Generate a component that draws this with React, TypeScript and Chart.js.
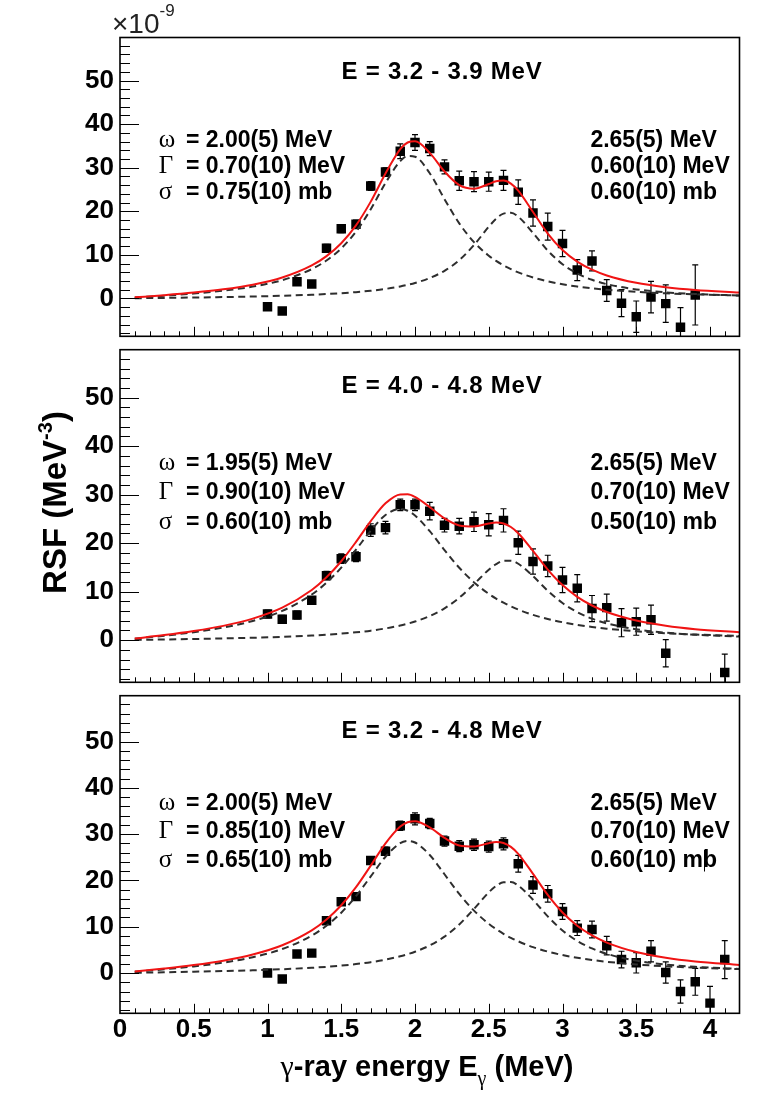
import React, { useEffect, useRef } from "react";
import { Chart, registerables } from "chart.js";

Chart.register(...registerables);
Chart.defaults.font.family = "Liberation Sans";

// ---------------- data ----------------
// energies at which the fitted curves are tabulated (MeV)
const curveE = [0.1, 0.3, 0.5, 0.7, 0.9, 1.1, 1.3, 1.4, 1.5, 1.6, 1.7, 1.8, 1.9, 1.95, 2.0, 2.1, 2.2, 2.3, 2.4, 2.5, 2.55, 2.6, 2.65, 2.7, 2.8, 2.9, 3.0, 3.1, 3.2, 3.3, 3.5, 3.7, 3.9, 4.2];

// panel 1 : E = 3.2 - 3.9 MeV
const p1Low = [0.20, 0.62, 1.12, 1.78, 2.71, 4.19, 6.72, 8.71, 11.48, 15.33, 20.46, 26.50, 31.53, 32.68, 32.53, 28.74, 22.79, 17.23, 12.92, 9.81, 8.60, 7.58, 6.72, 5.98, 4.80, 3.92, 3.25, 2.73, 2.32, 1.99, 1.51, 1.17, 0.93, 0.69];
const p1High = [0.04, 0.12, 0.20, 0.31, 0.43, 0.60, 0.84, 1.00, 1.19, 1.44, 1.76, 2.18, 2.75, 3.11, 3.54, 4.68, 6.34, 8.78, 12.26, 16.45, 18.30, 19.47, 19.64, 18.76, 15.03, 10.97, 7.86, 5.72, 4.27, 3.28, 2.07, 1.40, 1.01, 0.66];
const p1Sum = [0.24, 0.74, 1.33, 2.08, 3.15, 4.79, 7.56, 9.71, 12.67, 16.77, 22.22, 28.68, 34.28, 35.79, 36.07, 33.42, 29.13, 26.01, 25.18, 26.26, 26.90, 27.05, 26.36, 24.74, 19.83, 14.89, 11.11, 8.45, 6.59, 5.27, 3.57, 2.58, 1.94, 1.35];
const p1E = [1.0, 1.1, 1.2, 1.3, 1.4, 1.5, 1.6, 1.7, 1.8, 1.9, 2.0, 2.1, 2.2, 2.3, 2.4, 2.5, 2.6, 2.7, 2.8, 2.9, 3.0, 3.1, 3.2, 3.3, 3.4, 3.5, 3.6, 3.7, 3.8, 3.9];
const p1Y = [-1.9, -2.9, 3.8, 3.3, 11.5, 16.0, 17.0, 25.8, 29.0, 33.8, 35.8, 34.4, 30.2, 27.0, 26.8, 26.8, 27.1, 24.4, 19.6, 16.5, 12.6, 6.5, 8.6, 1.8, -1.1, -4.2, 0.3, -1.2, -6.6, 0.8];
const p1Err = [0.8, 0.8, 0.8, 0.8, 0.9, 0.9, 1.0, 1.0, 1.0, 1.7, 1.8, 1.6, 1.6, 2.2, 2.3, 2.2, 2.3, 2.8, 3.0, 3.1, 3.0, 2.4, 2.3, 2.5, 3.1, 3.6, 3.6, 4.3, 4.5, 6.9];

// panel 2 : E = 4.0 - 4.8 MeV
const p2Low = [0.29, 0.91, 1.64, 2.60, 3.95, 6.02, 9.40, 11.85, 14.94, 18.65, 22.58, 25.80, 27.05, 26.69, 25.71, 22.46, 18.56, 14.92, 11.91, 9.54, 8.56, 7.71, 6.96, 6.30, 5.21, 4.36, 3.69, 3.15, 2.71, 2.36, 1.82, 1.43, 1.15, 0.86];
const p2High = [0.04, 0.13, 0.23, 0.35, 0.49, 0.68, 0.94, 1.12, 1.34, 1.61, 1.95, 2.41, 3.01, 3.39, 3.83, 4.97, 6.55, 8.74, 11.55, 14.52, 15.68, 16.34, 16.37, 15.75, 13.19, 10.19, 7.66, 5.78, 4.42, 3.46, 2.23, 1.54, 1.11, 0.74];
const p2Sum = [0.33, 1.04, 1.88, 2.94, 4.44, 6.70, 10.34, 12.97, 16.27, 20.25, 24.54, 28.21, 30.06, 30.08, 29.54, 27.43, 25.11, 23.66, 23.46, 24.05, 24.24, 24.05, 23.33, 22.05, 18.40, 14.55, 11.35, 8.93, 7.14, 5.81, 4.05, 2.97, 2.26, 1.60];
const p2E = [1.0, 1.1, 1.2, 1.3, 1.4, 1.5, 1.6, 1.7, 1.8, 1.9, 2.0, 2.1, 2.2, 2.3, 2.4, 2.5, 2.6, 2.7, 2.8, 2.9, 3.0, 3.1, 3.2, 3.3, 3.4, 3.5, 3.6, 3.7, 4.1];
const p2Y = [5.4, 4.3, 5.2, 8.2, 13.3, 16.8, 17.2, 22.7, 23.2, 27.9, 27.9, 26.6, 23.7, 23.5, 24.4, 23.8, 24.7, 20.1, 16.2, 15.3, 12.4, 10.7, 6.5, 6.7, 3.6, 3.8, 4.2, -2.7, -6.7];
const p2Err = [0.8, 0.8, 0.8, 0.8, 0.9, 1.0, 1.0, 1.3, 1.3, 1.2, 1.2, 1.8, 1.4, 1.6, 2.0, 2.3, 2.4, 2.4, 2.6, 2.2, 2.6, 2.8, 2.7, 2.8, 2.9, 2.8, 3.0, 2.8, 3.8];

// panel 3 : E = 3.2 - 4.8 MeV
const p3Low = [0.26, 0.80, 1.43, 2.25, 3.41, 5.18, 8.08, 10.22, 13.03, 16.61, 20.86, 25.12, 28.04, 28.51, 28.19, 25.50, 21.33, 17.08, 13.47, 10.63, 9.48, 8.47, 7.60, 6.84, 5.59, 4.63, 3.88, 3.29, 2.81, 2.43, 1.85, 1.45, 1.16, 0.86];
const p3High = [0.05, 0.16, 0.28, 0.42, 0.59, 0.82, 1.13, 1.34, 1.60, 1.93, 2.34, 2.89, 3.61, 4.07, 4.60, 5.96, 7.86, 10.49, 13.86, 17.42, 18.81, 19.61, 19.64, 18.90, 15.83, 12.23, 9.19, 6.93, 5.31, 4.15, 2.68, 1.84, 1.34, 0.88];
const p3Sum = [0.31, 0.96, 1.71, 2.67, 4.00, 6.00, 9.21, 11.56, 14.63, 18.54, 23.20, 28.01, 31.65, 32.58, 32.79, 31.46, 29.19, 27.56, 27.33, 28.05, 28.29, 28.08, 27.24, 25.74, 21.42, 16.86, 13.07, 10.22, 8.12, 6.58, 4.53, 3.30, 2.50, 1.74];
const p3E = [1.0, 1.1, 1.2, 1.3, 1.4, 1.5, 1.6, 1.7, 1.8, 1.9, 2.0, 2.1, 2.2, 2.3, 2.4, 2.5, 2.6, 2.7, 2.8, 2.9, 3.0, 3.1, 3.2, 3.3, 3.4, 3.5, 3.6, 3.7, 3.8, 3.9, 4.0, 4.1];
const p3Y = [0.0, -1.3, 4.1, 4.3, 11.3, 15.4, 16.5, 24.3, 26.3, 31.8, 33.3, 32.3, 28.5, 27.4, 27.7, 27.3, 27.9, 23.6, 19.0, 17.1, 13.3, 9.7, 9.4, 5.9, 2.9, 2.2, 4.7, 0.1, -4.0, -1.9, -6.5, 2.9];
const p3Err = [0.7, 0.7, 0.7, 0.7, 0.7, 0.8, 0.8, 0.8, 0.9, 1.0, 1.3, 1.1, 1.1, 1.2, 1.2, 1.2, 1.3, 1.8, 1.8, 1.8, 1.7, 1.6, 1.8, 2.0, 1.8, 2.2, 2.3, 2.3, 2.5, 2.9, 3.6, 4.1];

// texts
const panelTitles = ["E = 3.2 - 3.9 MeV", "E = 4.0 - 4.8 MeV", "E = 3.2 - 4.8 MeV"];
const paramSymbols = ["\u03c9", "\u0393", "\u03c3"];
const p1Left = ["2.00(5) MeV", "0.70(10) MeV", "0.75(10) mb"];
const p1Right = ["2.65(5) MeV", "0.60(10) MeV", "0.60(10) mb"];
const p2Left = ["1.95(5) MeV", "0.90(10) MeV", "0.60(10) mb"];
const p2Right = ["2.65(5) MeV", "0.70(10) MeV", "0.50(10) mb"];
const p3Left = ["2.00(5) MeV", "0.85(10) MeV", "0.65(10) mb"];
const p3Right = ["2.65(5) MeV", "0.70(10) MeV", "0.60(10) mb"];

const X_MIN = 0;
const X_MAX = 4.2;
const Y_MIN = -8.7;
const Y_MAX = 59.9;

// ---------------- layout ----------------
type PanelSpec = {
  canvasTop: number;
  canvasH: number;
  padTop: number;
  padBottom: number;
  xAxisH: number;
  bottom: boolean;
  middle: boolean;
  top: boolean;
  ex: number[];
  ey: number[];
  err: number[];
  sum: number[];
  low: number[];
  high: number[];
  title: string;
  left: string[];
  right: string[];
  titleY: number;
  lineY: number[];
};

const PANELS: PanelSpec[] = [
  {
    canvasTop: 0, canvasH: 343, padTop: 37.5, padBottom: 3, xAxisH: 0,
    bottom: false, middle: false, top: true,
    ex: p1E, ey: p1Y, err: p1Err, sum: p1Sum, low: p1Low, high: p1High,
    title: panelTitles[0], left: p1Left, right: p1Right, titleY: 70, lineY: [138.7, 165, 191],
  },
  {
    canvasTop: 343, canvasH: 346, padTop: 3, padBottom: 3.3, xAxisH: 0,
    bottom: false, middle: true, top: false,
    ex: p2E, ey: p2Y, err: p2Err, sum: p2Sum, low: p2Low, high: p2High,
    title: panelTitles[1], left: p2Left, right: p2Right, titleY: 384.5, lineY: [461.7, 490.8, 520.8],
  },
  {
    canvasTop: 689, canvasH: 404, padTop: 5.3, padBottom: 0, xAxisH: 79.7,
    bottom: true, middle: false, top: false,
    ex: p3E, ey: p3Y, err: p3Err, sum: p3Sum, low: p3Low, high: p3High,
    title: panelTitles[2], left: p3Left, right: p3Right, titleY: 729, lineY: [801.7, 830, 858.3],
  },
];

type Seg = { t: string; f: string; dy?: number };

function richWidth(ctx: CanvasRenderingContext2D, segs: Seg[]) {
  let w = 0;
  for (const s of segs) {
    ctx.font = s.f;
    w += ctx.measureText(s.t).width;
  }
  return w;
}

function drawRich(ctx: CanvasRenderingContext2D, segs: Seg[], x: number, y: number) {
  let cx = x;
  ctx.textAlign = "left";
  ctx.textBaseline = "alphabetic";
  for (const s of segs) {
    ctx.font = s.f;
    ctx.fillText(s.t, cx, y + (s.dy || 0));
    cx += ctx.measureText(s.t).width;
  }
}

const SANS_B = (px: number) => `bold ${px}px "Liberation Sans"`;
const SANS = (px: number) => `${px}px "Liberation Sans"`;
const SERIF = (px: number) => `${px}px "Liberation Serif"`;

function makeDecor(p: PanelSpec) {
  return {
    id: "decor",
    beforeDatasetsDraw(chart: any) {
      const { ctx, chartArea: a, scales } = chart;
      const x = scales.x;
      const y = scales.y;
      ctx.save();
      ctx.beginPath();
      ctx.rect(a.left, a.top, a.right - a.left, a.bottom - a.top);
      ctx.clip();
      ctx.strokeStyle = "#000";
      ctx.lineWidth = 1.2;
      ctx.beginPath();
      p.ex.forEach((xv, i) => {
        const px = x.getPixelForValue(xv);
        const y1 = y.getPixelForValue(p.ey[i] + p.err[i]);
        const y2 = y.getPixelForValue(p.ey[i] - p.err[i]);
        ctx.moveTo(px, y1);
        ctx.lineTo(px, y2);
        ctx.moveTo(px - 3, y1);
        ctx.lineTo(px + 3, y1);
        ctx.moveTo(px - 3, y2);
        ctx.lineTo(px + 3, y2);
      });
      ctx.stroke();
      ctx.restore();
    },
    afterDatasetsDraw(chart: any) {
      const { ctx, chartArea: a, scales } = chart;
      const x = scales.x;
      const y = scales.y;
      ctx.save();
      ctx.strokeStyle = "#000";
      ctx.lineWidth = 1;
      ctx.beginPath();
      for (let v = -8; v <= 58; v += 2) {
        const py = Math.round(y.getPixelForValue(v)) + 0.5;
        const major = v % 10 === 0;
        ctx.moveTo(a.left, py);
        ctx.lineTo(a.left + (major ? 19 : 10), py);
      }
      for (let k = 1; k <= 41; k++) {
        const px = Math.round(x.getPixelForValue(k / 10)) + 0.5;
        const major = k % 5 === 0;
        ctx.moveTo(px, a.bottom);
        ctx.lineTo(px, a.bottom - (major ? 9.5 : 5));
      }
      ctx.stroke();
      ctx.lineWidth = 1.6;
      ctx.strokeRect(a.left, a.top, a.right - a.left, a.bottom - a.top);
      ctx.restore();
    },
    afterDraw(chart: any) {
      const { ctx } = chart;
      const off = p.canvasTop;
      ctx.save();
      ctx.fillStyle = "#000";
      ctx.textBaseline = "alphabetic";
      // panel title
      ctx.font = SANS_B(24);
      ctx.textAlign = "center";
      (ctx as any).letterSpacing = "0.8px";
      ctx.fillText(p.title, 442, p.titleY - off + 8.6);
      (ctx as any).letterSpacing = "0px";
      // parameters
      for (let i = 0; i < 3; i++) {
        const by = p.lineY[i] - off + 8.2;
        ctx.textAlign = "left";
        ctx.font = SERIF(25);
        ctx.fillText(paramSymbols[i], 158.7, by);
        ctx.font = SANS_B(23);
        ctx.fillText("= " + p.left[i], 186, by);
        ctx.fillText(p.right[i], 590.4, by);
      }
      if (p.top) {
        ctx.fillStyle = "#222";
        drawRich(ctx, [
          { t: "\u00d710", f: SANS(28) },
          { t: "-9", f: SANS(17), dy: -17 },
        ], 112, 32.5);
        ctx.fillStyle = "#000";
      }
      if (p.middle) {
        const segs: Seg[] = [
          { t: "RSF (MeV", f: SANS_B(33) },
          { t: "-3", f: SANS_B(20), dy: -14 },
          { t: ")", f: SANS_B(33) },
        ];
        const w = richWidth(ctx, segs);
        ctx.save();
        ctx.translate(66, 502.5 - off);
        ctx.rotate(-Math.PI / 2);
        drawRich(ctx, segs, -w / 2, 0);
        ctx.restore();
      }
      if (p.bottom) {
        const segs: Seg[] = [
          { t: "\u03b3", f: SERIF(30) },
          { t: "-ray energy E", f: SANS_B(29) },
          { t: "\u03b3", f: SERIF(20), dy: 9 },
          { t: " (MeV)", f: SANS_B(29) },
        ];
        const w = richWidth(ctx, segs);
        drawRich(ctx, segs, 427 - w / 2, 1076 - off);
        // small stray vertical mark seen in the source image
        ctx.strokeStyle = "#000";
        ctx.lineWidth = 1;
        ctx.beginPath();
        ctx.moveTo(704.5, 850 - off);
        ctx.lineTo(704.5, 871.5 - off);
        ctx.stroke();
      }
      ctx.restore();
    },
  };
}

function makeConfig(p: PanelSpec): any {
  const curve = (vals: number[]) => curveE.map((e, i) => ({ x: e, y: vals[i] }));
  return {
    type: "scatter",
    data: {
      datasets: [
        {
          type: "line",
          data: curve(p.sum),
          borderColor: "#f01414",
          borderWidth: 2,
          pointRadius: 0,
          fill: false,
          cubicInterpolationMode: "monotone",
          order: 0,
        },
        {
          type: "line",
          data: curve(p.low),
          borderColor: "#2e2e2e",
          borderWidth: 2,
          borderDash: [7, 4.5],
          pointRadius: 0,
          fill: false,
          cubicInterpolationMode: "monotone",
          order: 1,
        },
        {
          type: "line",
          data: curve(p.high),
          borderColor: "#2e2e2e",
          borderWidth: 2,
          borderDash: [7, 4.5],
          pointRadius: 0,
          fill: false,
          cubicInterpolationMode: "monotone",
          order: 2,
        },
        {
          type: "scatter",
          data: p.ex.map((e, i) => ({ x: e, y: p.ey[i] })),
          pointStyle: "rect",
          pointRadius: 6.7,
          pointBackgroundColor: "#000",
          pointBorderWidth: 0,
          showLine: false,
          order: 3,
        },
      ],
    },
    options: {
      responsive: false,
      animation: false,
      events: [],
      layout: { padding: { top: p.padTop, bottom: p.padBottom, left: 0, right: 17.5 } },
      plugins: { legend: { display: false }, tooltip: { enabled: false } },
      scales: {
        x: {
          type: "linear",
          min: X_MIN,
          max: X_MAX,
          afterFit: (s: any) => {
            s.height = p.xAxisH;
            s.paddingLeft = 0;
            s.paddingRight = 0;
          },
          grid: { display: false, drawTicks: false },
          border: { display: false },
          ticks: {
            display: p.bottom,
            stepSize: 0.5,
            includeBounds: false,
            autoSkip: false,
            maxRotation: 0,
            padding: 1,
            color: "#000",
            font: { family: "Liberation Sans", size: 26, weight: "bold" },
            callback: (v: number) => String(v),
          },
        },
        y: {
          type: "linear",
          min: Y_MIN,
          max: Y_MAX,
          afterFit: (s: any) => {
            s.width = 120;
            s.paddingTop = 0;
            s.paddingBottom = 0;
          },
          grid: { display: false, drawTicks: false },
          border: { display: false },
          ticks: {
            stepSize: 10,
            includeBounds: false,
            autoSkip: false,
            padding: 6,
            color: "#000",
            font: { family: "Liberation Sans", size: 26, weight: "bold" },
            callback: (v: number) => String(v),
          },
        },
      },
    },
    plugins: [makeDecor(p)],
  };
}

function PanelChart({ p }: { p: PanelSpec }) {
  const ref = useRef<HTMLCanvasElement | null>(null);
  useEffect(() => {
    if (!ref.current) return;
    const chart = new Chart(ref.current, makeConfig(p));
    return () => chart.destroy();
  }, [p]);
  return (
    <canvas
      ref={ref}
      width={757}
      height={p.canvasH}
      style={{ position: "absolute", left: 0, top: p.canvasTop, width: 757, height: p.canvasH, display: "block" }}
    />
  );
}

export default function App() {
  return (
    <div style={{ position: "absolute", left: 0, top: 0, width: 757, height: 1093, background: "#fff", overflow: "hidden" }}>
      {PANELS.map((p, i) => (
        <PanelChart key={i} p={p} />
      ))}
    </div>
  );
}
